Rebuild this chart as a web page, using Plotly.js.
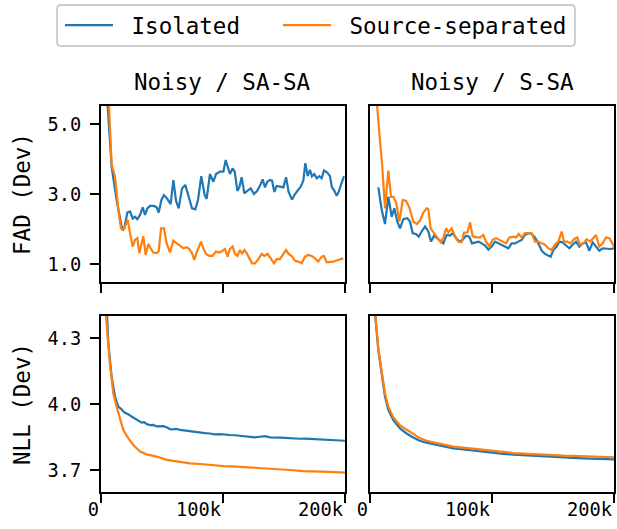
<!DOCTYPE html>
<html><head><meta charset="utf-8">
<script src="https://cdn.plot.ly/plotly-3.0.1.min.js"></script>
<style>html,body{margin:0;padding:0;background:#fff}#chart{width:617px;height:529px}</style>
</head><body><div id="chart"></div>
<script>
const seriesNames = ["Isolated", "Source-separated"];
const seriesColors = ["#1f77b4", "#ff7f0e"];
const panelTitles = ["Noisy / SA-SA", "Noisy / S-SA"];
const rowTitles = ["FAD (Dev)", "NLL (Dev)"];
const xTickVals = [0, 100000, 200000];
const xTickText = ["0", "100k", "200k"];
const fadTickVals = [1.0, 3.0, 5.0];
const fadTickText = ["1.0", "3.0", "5.0"];
const nllTickVals = [3.7, 4.0, 4.3];
const nllTickText = ["3.7", "4.0", "4.3"];

// [step (thousands), value]
const fadSaSaIso = [[4,6.3],[8.7,3.78],[12.8,2.83],[15.6,2.26],[17.5,1.97],[19.1,2.02],[21.6,2.47],[23.8,2.50],[26,2.30],[27.9,2.35],[29.8,2.28],[32,2.40],[34.2,2.62],[36.1,2.40],[38,2.59],[40.2,2.66],[43.4,2.66],[45.6,2.62],[47.3,2.47],[49.5,2.83],[51.6,2.97],[54.4,2.86],[57.1,2.71],[59.3,3.40],[61.5,2.81],[63.7,2.59],[66.4,3.16],[69.1,3.26],[71.9,2.90],[74.6,2.59],[77.3,2.56],[79.5,2.83],[82.2,3.51],[85,2.97],[86.6,2.86],[89.3,3.57],[92.1,3.35],[94.3,3.57],[97.5,3.64],[100.3,3.64],[102.2,3.97],[104.1,3.78],[105.7,3.57],[107.9,3.73],[109.6,3.64],[111.8,3.09],[113.4,3.19],[115.3,3.48],[117.5,3.02],[119.9,3.09],[122.7,3.16],[125.4,3.00],[128.1,3.09],[130.9,3.28],[132.5,3.42],[134.4,3.19],[136.3,3.35],[138.5,3.40],[140.2,3.38],[142.1,3.06],[144,3.23],[146.7,3.21],[149.5,3.19],[151.7,3.48],[153.8,3.06],[156.6,2.84],[158.5,2.97],[161,3.09],[163.7,3.21],[165.8,3.37],[167.5,3.88],[169.4,3.51],[171.3,3.69],[172.9,3.50],[174.9,3.57],[176.8,3.45],[179,3.51],[180.9,3.45],[182.8,3.67],[185.5,3.61],[187.7,3.51],[189.3,3.19],[191.3,3.09],[193.2,2.95],[194.8,3.06],[196.7,3.26],[199.2,3.51]];
const fadSaSaSep = [[4,7.5],[8.75,3.83],[11.5,3.50],[14.2,2.54],[16.4,2.02],[18.3,1.97],[20.2,2.11],[21.9,2.26],[23.8,1.88],[26,1.50],[27.9,1.69],[29.8,1.74],[31.4,1.31],[33.3,1.55],[34.7,1.79],[36.6,1.26],[38.8,1.57],[40.7,1.45],[42.9,1.33],[45.6,1.31],[47.3,1.36],[49.2,2.02],[51.6,2.02],[53.8,1.59],[56.6,1.33],[59.3,1.67],[62,1.59],[64.8,1.52],[67.5,1.45],[70.2,1.48],[72.4,1.43],[74.6,1.31],[76.5,1.12],[78.4,1.33],[79.8,1.45],[82,1.64],[83.9,1.45],[86.1,1.29],[88.8,1.23],[91.5,1.23],[94.3,1.36],[96.4,1.33],[98.9,1.36],[101.6,1.43],[103.8,1.21],[105.7,1.43],[107.9,1.50],[109.8,1.29],[111.8,1.23],[113.9,1.40],[115.6,1.29],[117.5,1.40],[119.4,1.31],[121.6,1.14],[123.8,1.02],[126.2,1.02],[129,1.14],[131.7,1.29],[133.9,1.23],[136.6,1.29],[139.1,1.14],[141.8,1.02],[144,1.14],[146.7,1.14],[149.5,1.29],[151.7,1.40],[153.8,1.29],[156.3,1.23],[159,1.09],[161.7,1.07],[164.5,1.02],[167.2,1.21],[169.9,1.26],[172.7,1.23],[175.4,1.16],[178.1,1.07],[180.9,1.21],[182.8,1.23],[185,1.05],[187.7,1.05],[190.4,1.07],[193.2,1.10],[195.9,1.14],[198.6,1.16]];
const fadSSaIso = [[6.8,3.19],[9.6,2.54],[12.3,2.14],[15,2.92],[17.8,2.35],[19.9,2.59],[22.4,2.21],[24.6,2.02],[27.3,2.28],[30.6,2.31],[32.8,2.21],[35,1.88],[37.7,1.86],[39.9,1.78],[42.3,1.93],[45.1,2.07],[47.8,1.93],[50,1.64],[52.5,1.81],[55.2,1.74],[57.4,1.67],[60.1,1.59],[62.8,1.83],[65.6,1.81],[67.8,1.88],[70.5,1.74],[73.2,1.64],[75.9,1.69],[78.7,1.81],[81.4,1.78],[83.6,1.59],[86.3,1.62],[89.1,1.64],[91.5,1.59],[94.3,1.53],[97,1.41],[99.7,1.50],[102.5,1.64],[105.2,1.59],[107.9,1.55],[110.7,1.50],[113.4,1.45],[116.1,1.59],[118.9,1.59],[121.6,1.64],[124.3,1.69],[127,1.83],[129.8,1.88],[132.5,1.86],[135.2,1.76],[138,1.59],[140.7,1.38],[143.4,1.29],[146.2,1.23],[148.1,1.21],[150.3,1.40],[153,1.50],[155.2,1.64],[157.9,1.62],[160.7,1.53],[163.4,1.45],[166.1,1.55],[168.9,1.64],[171.6,1.50],[174.3,1.59],[177,1.62],[179.8,1.38],[182.5,1.62],[185.2,1.50],[188,1.38],[190.7,1.45],[194,1.43],[196.7,1.43],[200,1.45]];
const fadSSaSep = [[4,6.3],[6,5.3],[8,4.6],[10,3.8],[12.3,2.59],[15,3.67],[17.2,2.92],[19.1,2.92],[21.5,2.75],[24,2.21],[26.8,2.83],[29.5,2.81],[32.2,2.62],[35.5,2.21],[38.3,2.14],[41,2.24],[43.7,2.47],[46.4,2.59],[47.8,2.57],[49.7,2.02],[52.5,1.88],[55.2,1.74],[57.9,1.62],[60.1,1.74],[62.3,2.02],[64.2,1.90],[66.9,2.02],[69.7,1.79],[72.4,1.64],[75.1,1.62],[77.1,1.90],[79.8,1.90],[82,2.19],[84.2,1.79],[86.9,1.76],[90.2,1.76],[92.9,1.83],[95.1,1.64],[97.8,1.50],[100.5,1.69],[103.3,1.74],[106,1.69],[108.7,1.64],[111.5,1.59],[114.2,1.76],[116.9,1.78],[119.7,1.76],[121.9,1.86],[124.3,1.76],[127,1.88],[129.8,1.88],[132.5,1.88],[135.2,1.64],[138,1.64],[140.7,1.59],[143.4,1.55],[146.2,1.45],[148.9,1.40],[151.6,1.55],[154.4,1.64],[157.1,1.93],[159,1.64],[161.7,1.64],[164.5,1.59],[167.2,1.71],[169.9,1.76],[172.1,1.55],[174.9,1.59],[177.6,1.71],[180.3,1.64],[183.1,1.74],[185.2,1.83],[188,1.50],[190.7,1.59],[193.4,1.76],[196.2,1.74],[198.1,1.62],[200,1.50]];
const nllSaSaIso = [[2,4.75],[6,4.276],[8.7,4.124],[11.5,4.033],[14.2,3.988],[16.9,3.976],[19,3.962],[21,3.958],[23,3.951],[25.1,3.943],[27.2,3.936],[29.2,3.927],[31.3,3.922],[33.3,3.915],[35.4,3.917],[37.4,3.909],[40.2,3.904],[42.9,3.905],[45.6,3.898],[48.4,3.897],[51.1,3.899],[53.8,3.894],[56.5,3.886],[59.3,3.885],[62,3.887],[64.8,3.882],[68.9,3.879],[72.9,3.874],[77,3.872],[81.2,3.869],[85.2,3.868],[89.3,3.866],[93.4,3.862],[97.5,3.863],[101.6,3.860],[105.7,3.859],[109.8,3.858],[113.9,3.856],[118,3.853],[122.1,3.851],[126.2,3.848],[130.3,3.851],[134.4,3.854],[138.5,3.848],[142.6,3.849],[146.7,3.847],[150.8,3.846],[154.9,3.844],[159,3.845],[163.1,3.842],[167.2,3.843],[171.3,3.842],[175.4,3.840],[179.5,3.841],[183.6,3.839],[187.7,3.836],[191.8,3.837],[195.9,3.834],[200,3.833]];
const nllSaSaSep = [[2,4.9],[4.1,4.4],[7.3,4.185],[10.1,4.047],[12.8,3.988],[15.6,3.927],[18.3,3.882],[22.4,3.844],[26.5,3.814],[32,3.784],[37.4,3.771],[45.6,3.761],[53.8,3.746],[62,3.739],[72.9,3.730],[83.9,3.726],[92.1,3.721],[100.3,3.718],[111.2,3.715],[122.1,3.712],[133,3.707],[144,3.704],[154.9,3.700],[165.8,3.695],[176.8,3.694],[187.7,3.691],[200,3.688]];
const nllSSaIso = [[2,4.7],[4,4.42],[6.8,4.245],[9.6,4.124],[12.3,4.033],[15,3.973],[19.1,3.927],[24.6,3.889],[30,3.866],[35.5,3.848],[40.7,3.833],[46.4,3.824],[51.9,3.817],[60.1,3.806],[68.3,3.798],[76.5,3.794],[84.7,3.788],[92.9,3.783],[101.1,3.779],[109.3,3.773],[117.5,3.770],[125.7,3.767],[133.9,3.764],[142.1,3.761],[150.3,3.758],[158.5,3.756],[166.7,3.755],[174.9,3.753],[183.1,3.752],[191.3,3.750],[200,3.748]];
const nllSSaSep = [[2,4.75],[4,4.43],[6.8,4.252],[9.6,4.139],[12.3,4.048],[15,3.988],[19.1,3.939],[24.6,3.903],[30,3.882],[35.5,3.864],[40.7,3.845],[46.4,3.833],[51.9,3.826],[60.1,3.815],[68.3,3.806],[76.5,3.802],[84.7,3.797],[92.9,3.791],[101.1,3.785],[109.3,3.780],[117.5,3.777],[125.7,3.774],[133.9,3.771],[142.1,3.770],[150.3,3.767],[158.5,3.765],[166.7,3.764],[174.9,3.762],[183.1,3.761],[191.3,3.759],[200,3.758]];

const panels = [
  {xa: "x", ya: "y", data: [fadSaSaIso, fadSaSaSep]},
  {xa: "x2", ya: "y2", data: [fadSSaIso, fadSSaSep]},
  {xa: "x3", ya: "y3", data: [nllSaSaIso, nllSaSaSep]},
  {xa: "x4", ya: "y4", data: [nllSSaIso, nllSSaSep]}
];
const legendIds = ["legend", "legend2"];

const traces = [];
panels.forEach((p, pi) => {
  p.data.forEach((ser, si) => {
    traces.push({
      type: "scatter", mode: "lines",
      x: ser.map(d => d[0] * 1000), y: ser.map(d => d[1]),
      xaxis: p.xa, yaxis: p.ya,
      name: "\u00a0" + seriesNames[si], legendgroup: seriesNames[si],
      legend: legendIds[si],
      showlegend: pi === 0,
      line: {color: seriesColors[si], width: 2.2},
      cliponaxis: true
    });
  });
});

const FONT = "DejaVu Sans Mono";
const tickFont = {family: FONT, size: 18.7, color: "#000"};
const base = {
  showline: true, linecolor: "#000", linewidth: 2, mirror: true,
  ticks: "outside", ticklen: 9, tickwidth: 2, tickcolor: "#000",
  showgrid: false, zeroline: false, tickfont: tickFont, fixedrange: true
};
const L = [0, 0.4756], R = [0.5244, 1], TOP = [0.544, 1], BOT = [0, 0.456];
const xBase = Object.assign({}, base, {range: [0, 200000], tickmode: "array", tickvals: xTickVals, ticktext: xTickText, ticklabelposition: "outside left"});
const yTitleFont = {family: FONT, size: 22.5, color: "#000"};
const legFont = {family: FONT, size: 22.5, color: "#000"};
const legBase = {orientation: "h", y: 1.264, xanchor: "left", yanchor: "top", font: legFont, borderwidth: 0, bgcolor: "rgba(0,0,0,0)", itemwidth: 48};

// legend frame (paper coords), rounded corners
const bx0 = -0.0858, bx1 = 0.924, by0 = 1.1554, by1 = 1.2617, rx = 0.0078, ry = 0.0104;
const framePath = `M${bx0+rx},${by0} L${bx1-rx},${by0} Q${bx1},${by0} ${bx1},${by0+ry} L${bx1},${by1-ry} Q${bx1},${by1} ${bx1-rx},${by1} L${bx0+rx},${by1} Q${bx0},${by1} ${bx0},${by1-ry} L${bx0},${by0+ry} Q${bx0},${by0} ${bx0+rx},${by0} Z`;

const layout = {
  width: 617, height: 529,
  margin: {l: 101, r: 3, t: 106, b: 37},
  paper_bgcolor: "#fff", plot_bgcolor: "#fff",
  font: {family: FONT, color: "#000"},
  showlegend: true,
  legend: Object.assign({}, legBase, {x: -0.0799}),
  legend2: Object.assign({}, legBase, {x: 0.345}),
  shapes: [{type: "path", xref: "paper", yref: "paper", path: framePath, line: {color: "#cccccc", width: 1.8}, fillcolor: "#fff", layer: "below"}],
  xaxis: Object.assign({}, xBase, {domain: L, anchor: "y", showticklabels: false}),
  xaxis2: Object.assign({}, xBase, {domain: R, anchor: "y2", showticklabels: false}),
  xaxis3: Object.assign({}, xBase, {domain: L, anchor: "y3"}),
  xaxis4: Object.assign({}, xBase, {domain: R, anchor: "y4"}),
  yaxis: Object.assign({}, base, {domain: TOP, anchor: "x", range: [0.486, 5.514], tickmode: "array", tickvals: fadTickVals, ticktext: fadTickText,
    ticklabelstandoff: 5, title: {text: rowTitles[0], font: yTitleFont, standoff: 11}}),
  yaxis2: Object.assign({}, base, {domain: TOP, anchor: "x2", range: [0.486, 5.514], ticks: "", showticklabels: false}),
  yaxis3: Object.assign({}, base, {domain: BOT, anchor: "x3", range: [3.6, 4.4], tickmode: "array", tickvals: nllTickVals, ticktext: nllTickText,
    ticklabelstandoff: 5, title: {text: rowTitles[1], font: yTitleFont, standoff: 11}}),
  yaxis4: Object.assign({}, base, {domain: BOT, anchor: "x4", range: [3.6, 4.4], ticks: "", showticklabels: false}),
  annotations: [
    {text: panelTitles[0], xref: "paper", yref: "paper", x: (L[0] + L[1]) / 2, y: 1.0622, xanchor: "center", yanchor: "middle", showarrow: false, font: {family: FONT, size: 22.5, color: "#000"}},
    {text: panelTitles[1], xref: "paper", yref: "paper", x: (R[0] + R[1]) / 2, y: 1.0622, xanchor: "center", yanchor: "middle", showarrow: false, font: {family: FONT, size: 22.5, color: "#000"}}
  ]
};

Plotly.newPlot("chart", traces, layout, {displayModeBar: false, staticPlot: true});
</script>
</body></html>
